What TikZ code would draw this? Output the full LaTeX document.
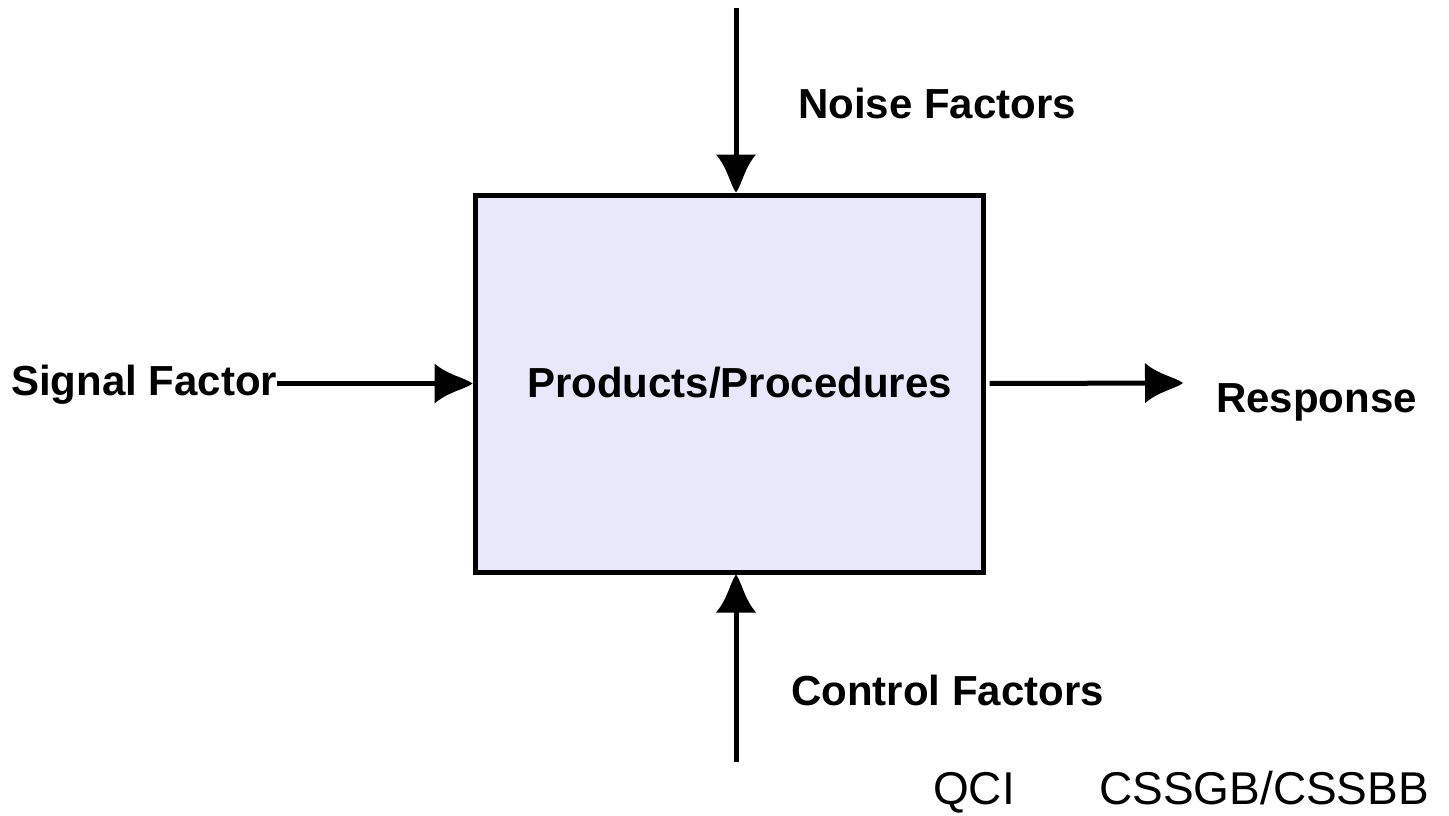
\documentclass[tikz,border=0pt]{standalone}
\usepackage{fontspec}
\setmainfont{Liberation Sans}
\usetikzlibrary{arrows.meta}
\definecolor{boxfill}{RGB}{232,232,250}
\pgfdeclarearrow{
  name=Bell,
  setup code={
    \pgfarrowssettipend{0pt}
    \pgfarrowssetlineend{-30pt}
    \pgfarrowssetbackend{-38pt}
    \pgfarrowsupperhullpoint{-38pt}{20pt}
    \pgfarrowsupperhullpoint{0pt}{0pt}
  },
  drawing code={
    \pgfpathmoveto{\pgfpoint{0pt}{0pt}}
    \pgfpathcurveto{\pgfpoint{-8pt}{6pt}}{\pgfpoint{-24pt}{8pt}}{\pgfpoint{-38pt}{20pt}}
    \pgfpathlineto{\pgfpoint{-38pt}{-20pt}}
    \pgfpathcurveto{\pgfpoint{-24pt}{-8pt}}{\pgfpoint{-8pt}{-6pt}}{\pgfpoint{0pt}{0pt}}
    \pgfpathclose
    \pgfusepathqfill
  },
  defaults={}
}
\tikzset{
  lbl/.style={font=\fontsize{42}{50}\selectfont\bfseries, inner sep=0pt, anchor=west},
  conn/.style={line width=5pt, -{Bell}},
  foot/.style={font=\fontsize{46}{55}\selectfont, inner sep=0pt, anchor=base west}
}
\begin{document}
\begin{tikzpicture}[x=1pt,y=-1pt]
\useasboundingbox (0,0) rectangle (1449,816);
\node[draw, line width=5pt, fill=boxfill, minimum width=508pt, minimum height=377pt, inner sep=0pt] (box) at (729,383.5) {};
\node[lbl] (prod) at (527,383) {Products/Procedures};
\node[lbl] (noise) at (798,103) {Noise Factors};
\node[lbl] (signal) at (11,385) {Signal Factor};
\node[lbl] (resp) at (1216,402) {Response};
\node[lbl] (ctrl) at (791,690) {Control Factors};
\node[foot] (qci) at (933,804) {QCI};
\node[foot] (cssgb) at (1099,804) {CSSGB/CSSBB};
\coordinate (ntop) at (736,8);
\coordinate (cbot) at (736,762);
\coordinate (rtip) at (1183,383);
\draw[conn] (ntop) -- (box.north -| ntop);
\draw[conn] (cbot) -- (box.south -| cbot);
\draw[conn] (signal.east |- box.west) -- (box.west);
\draw[conn] (box.east) ++(4,0) -- (rtip);
\end{tikzpicture}
\end{document}
